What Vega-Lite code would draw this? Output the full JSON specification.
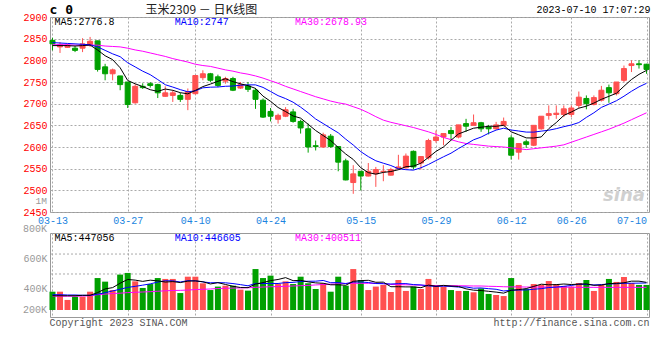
{
"$schema":"https://vega.github.io/schema/vega-lite/v6.json",
"padding":{"left":22,"top":3,"right":5,"bottom":5},
"bounds":"flush",
"spacing":21,
"config":{"view":{"stroke":"#999","strokeWidth":1},"font":"Liberation Mono",
"axis":{"labelFont":"Liberation Mono","labelFontSize":10,"ticks":false,"domain":false,"gridColor":"#aaa","gridDash":[2,2],"gridOpacity":1,"title":null,"labelPadding":3,"labelOverlap":false}},
"datasets":{"k":[
{"d":"03-13","o":2846,"h":2852,"l":2823,"c":2838,"v":382,"m5":2834,"m10":2841,"m30":2836,"vm5":355,"vm10":362,"vm30":352},
{"d":"03-14","o":2831,"h":2842,"l":2817,"c":2836,"v":382,"m5":2834,"m10":2840,"m30":2836,"vm5":355,"vm10":362,"vm30":352},
{"d":"03-15","o":2830,"h":2838,"l":2829,"c":2835,"v":327,"m5":2834,"m10":2839,"m30":2836,"vm5":355,"vm10":360,"vm30":352},
{"d":"03-16","o":2828,"h":2833,"l":2819,"c":2823,"v":349,"m5":2833,"m10":2838,"m30":2835,"vm5":355,"vm10":360,"vm30":352},
{"d":"03-17","o":2828,"h":2851,"l":2819,"c":2838,"v":349,"m5":2834,"m10":2837,"m30":2835,"vm5":357.8,"vm10":358,"vm30":353},
{"d":"03-20","o":2836,"h":2854,"l":2831,"c":2844,"v":382,"m5":2835.2,"m10":2836,"m30":2835,"vm5":357.8,"vm10":358,"vm30":355},
{"d":"03-21","o":2845,"h":2845,"l":2774,"c":2779,"v":473,"m5":2823.8,"m10":2831,"m30":2835,"vm5":376,"vm10":365,"vm30":362},
{"d":"03-22","o":2785,"h":2792,"l":2754,"c":2769,"v":449,"m5":2810.6,"m10":2823,"m30":2833,"vm5":400.4,"vm10":375,"vm30":366},
{"d":"03-23","o":2769,"h":2781,"l":2754,"c":2778,"v":393,"m5":2801.6,"m10":2815,"m30":2832,"vm5":409.2,"vm10":387,"vm30":370},
{"d":"03-24","o":2764,"h":2764,"l":2731,"c":2744,"v":496,"m5":2782.8,"m10":2808.4,"m30":2831,"vm5":438.6,"vm10":398.2,"vm30":372},
{"d":"03-27","o":2750,"h":2750,"l":2690,"c":2698,"v":507,"m5":2753.6,"m10":2794.4,"m30":2828,"vm5":463.6,"vm10":410.7,"vm30":376},
{"d":"03-28","o":2702,"h":2745,"l":2700,"c":2740,"v":451,"m5":2745.8,"m10":2784.8,"m30":2824,"vm5":459.2,"vm10":417.6,"vm30":378},
{"d":"03-29","o":2740,"h":2747,"l":2734,"c":2737,"v":407,"m5":2739.4,"m10":2775,"m30":2821,"vm5":450.8,"vm10":425.6,"vm30":380},
{"d":"03-30","o":2746,"h":2750,"l":2737,"c":2742,"v":433,"m5":2732.2,"m10":2766.9,"m30":2817,"vm5":458.8,"vm10":434,"vm30":382},
{"d":"03-31","o":2744,"h":2746,"l":2713,"c":2725,"v":473,"m5":2728.4,"m10":2755.6,"m30":2813,"vm5":454.2,"vm10":446.4,"vm30":385},
{"d":"04-03","o":2717,"h":2740,"l":2716,"c":2725,"v":467,"m5":2733.8,"m10":2743.7,"m30":2809,"vm5":446.2,"vm10":454.9,"vm30":388},
{"d":"04-04","o":2719,"h":2731,"l":2704,"c":2725,"v":467,"m5":2730.8,"m10":2738.3,"m30":2804,"vm5":449.4,"vm10":454.3,"vm30":390},
{"d":"04-06","o":2719,"h":2725,"l":2704,"c":2710,"v":373,"m5":2725.4,"m10":2732.4,"m30":2800,"vm5":442.6,"vm10":446.7,"vm30":391},
{"d":"04-07","o":2710,"h":2735,"l":2685,"c":2728,"v":482,"m5":2722.6,"m10":2727.4,"m30":2796,"vm5":452.4,"vm10":455.6,"vm30":393},
{"d":"04-10","o":2723,"h":2766,"l":2721,"c":2765,"v":482,"m5":2730.6,"m10":2729.5,"m30":2791,"vm5":454.2,"vm10":454.2,"vm30":396},
{"d":"04-11","o":2760,"h":2777,"l":2754,"c":2769,"v":438,"m5":2739.4,"m10":2736.6,"m30":2788,"vm5":448.4,"vm10":447.3,"vm30":398},
{"d":"04-12","o":2769,"h":2771,"l":2750,"c":2754,"v":393,"m5":2745.2,"m10":2738,"m30":2786,"vm5":433.6,"vm10":441.5,"vm30":400},
{"d":"04-13","o":2762,"h":2767,"l":2738,"c":2742,"v":416,"m5":2751.6,"m10":2738.5,"m30":2782,"vm5":442.2,"vm10":442.4,"vm30":403},
{"d":"04-14","o":2752,"h":2762,"l":2746,"c":2758,"v":422,"m5":2757.6,"m10":2740.1,"m30":2778,"vm5":430.2,"vm10":441.3,"vm30":405},
{"d":"04-17","o":2758,"h":2762,"l":2729,"c":2731,"v":422,"m5":2750.8,"m10":2740.7,"m30":2775,"vm5":418.2,"vm10":436.2,"vm30":406},
{"d":"04-18","o":2736,"h":2750,"l":2734,"c":2744,"v":396,"m5":2745.8,"m10":2742.6,"m30":2771,"vm5":409.8,"vm10":429.1,"vm30":407},
{"d":"04-19","o":2741,"h":2750,"l":2727,"c":2733,"v":389,"m5":2741.6,"m10":2743.4,"m30":2768,"vm5":409,"vm10":421.3,"vm30":408},
{"d":"04-20","o":2731,"h":2736,"l":2688,"c":2710,"v":533,"m5":2735.2,"m10":2743.4,"m30":2764,"vm5":432.4,"vm10":437.3,"vm30":411},
{"d":"04-21","o":2708,"h":2712,"l":2667,"c":2669,"v":473,"m5":2717.4,"m10":2737.5,"m30":2759,"vm5":442.6,"vm10":436.4,"vm30":413},
{"d":"04-24","o":2682,"h":2690,"l":2659,"c":2671,"v":489,"m5":2705.4,"m10":2728.1,"m30":2753,"vm5":456,"vm10":437.1,"vm30":415},
{"d":"04-25","o":2664,"h":2677,"l":2654,"c":2673,"v":433,"m5":2691.2,"m10":2718.5,"m30":2747,"vm5":463.4,"vm10":436.6,"vm30":416},
{"d":"04-26","o":2671,"h":2692,"l":2669,"c":2686,"v":451,"m5":2681.8,"m10":2711.7,"m30":2740,"vm5":475.8,"vm10":442.4,"vm30":418},
{"d":"04-27","o":2681,"h":2688,"l":2656,"c":2659,"v":433,"m5":2671.6,"m10":2703.4,"m30":2734,"vm5":455.8,"vm10":444.1,"vm30":420},
{"d":"04-28","o":2659,"h":2663,"l":2631,"c":2644,"v":482,"m5":2666.6,"m10":2692,"m30":2728,"vm5":457.6,"vm10":450.1,"vm30":422},
{"d":"05-04","o":2642,"h":2654,"l":2587,"c":2600,"v":438,"m5":2652.4,"m10":2678.9,"m30":2722,"vm5":447.4,"vm10":451.7,"vm30":424},
{"d":"05-05","o":2603,"h":2615,"l":2592,"c":2601,"v":400,"m5":2638,"m10":2664.6,"m30":2716,"vm5":440.8,"vm10":452.1,"vm30":427},
{"d":"05-08","o":2600,"h":2633,"l":2598,"c":2628,"v":438,"m5":2626.4,"m10":2654.1,"m30":2711,"vm5":438.2,"vm10":457,"vm30":430},
{"d":"05-09","o":2625,"h":2630,"l":2598,"c":2601,"v":382,"m5":2614.8,"m10":2643.2,"m30":2706,"vm5":428,"vm10":441.9,"vm30":432},
{"d":"05-10","o":2601,"h":2601,"l":2544,"c":2565,"v":482,"m5":2599,"m10":2632.8,"m30":2702,"vm5":428,"vm10":442.8,"vm30":435},
{"d":"05-11","o":2568,"h":2573,"l":2523,"c":2524,"v":422,"m5":2583.8,"m10":2618.1,"m30":2699,"vm5":424.8,"vm10":436.1,"vm30":437},
{"d":"05-12","o":2518,"h":2558,"l":2492,"c":2538,"v":533,"m5":2571.2,"m10":2604.6,"m30":2693,"vm5":451.4,"vm10":446.1,"vm30":438},
{"d":"05-15","o":2544,"h":2544,"l":2500,"c":2533,"v":460,"m5":2552.2,"m10":2589.3,"m30":2687,"vm5":455.8,"vm10":447,"vm30":438},
{"d":"05-16","o":2533,"h":2563,"l":2532,"c":2544,"v":393,"m5":2540.8,"m10":2577.8,"m30":2679,"vm5":458,"vm10":443,"vm30":438},
{"d":"05-17","o":2538,"h":2554,"l":2508,"c":2548,"v":416,"m5":2537.4,"m10":2568.2,"m30":2670,"vm5":444.8,"vm10":436.4,"vm30":438},
{"d":"05-18","o":2543,"h":2558,"l":2521,"c":2544,"v":427,"m5":2541.4,"m10":2562.6,"m30":2662,"vm5":445.8,"vm10":435.3,"vm30":436},
{"d":"05-19","o":2535,"h":2552,"l":2534,"c":2548,"v":380,"m5":2543.4,"m10":2557.3,"m30":2657,"vm5":415.2,"vm10":433.3,"vm30":430},
{"d":"05-22","o":2550,"h":2582,"l":2548,"c":2554,"v":460,"m5":2547.6,"m10":2549.9,"m30":2653,"vm5":415.2,"vm10":435.5,"vm30":429},
{"d":"05-23","o":2552,"h":2585,"l":2550,"c":2579,"v":387,"m5":2554.6,"m10":2547.7,"m30":2649,"vm5":414,"vm10":436,"vm30":428},
{"d":"05-24","o":2590,"h":2592,"l":2548,"c":2554,"v":416,"m5":2555.8,"m10":2546.6,"m30":2645,"vm5":414,"vm10":429.4,"vm30":427},
{"d":"05-25","o":2563,"h":2578,"l":2548,"c":2578,"v":400,"m5":2562.6,"m10":2552,"m30":2640,"vm5":408.6,"vm10":427.2,"vm30":425},
{"d":"05-26","o":2575,"h":2619,"l":2571,"c":2615,"v":467,"m5":2576,"m10":2559.7,"m30":2635,"vm5":426,"vm10":420.6,"vm30":424},
{"d":"05-29","o":2615,"h":2638,"l":2610,"c":2623,"v":422,"m5":2589.8,"m10":2568.7,"m30":2629,"vm5":418.4,"vm10":416.8,"vm30":423},
{"d":"05-30","o":2623,"h":2631,"l":2604,"c":2631,"v":416,"m5":2600.2,"m10":2577.4,"m30":2622,"vm5":424.2,"vm10":419.1,"vm30":422},
{"d":"05-31","o":2638,"h":2646,"l":2616,"c":2631,"v":393,"m5":2615.6,"m10":2585.7,"m30":2617,"vm5":419.6,"vm10":416.8,"vm30":422},
{"d":"06-01","o":2623,"h":2651,"l":2620,"c":2651,"v":387,"m5":2630.2,"m10":2596.4,"m30":2612,"vm5":417,"vm10":412.8,"vm30":422},
{"d":"06-02","o":2654,"h":2665,"l":2635,"c":2648,"v":387,"m5":2636.8,"m10":2606.4,"m30":2608,"vm5":401,"vm10":413.5,"vm30":421},
{"d":"06-05","o":2650,"h":2675,"l":2650,"c":2656,"v":378,"m5":2643.4,"m10":2616.6,"m30":2606,"vm5":392.2,"vm10":405.3,"vm30":420},
{"d":"06-06","o":2656,"h":2658,"l":2635,"c":2642,"v":404,"m5":2645.6,"m10":2622.9,"m30":2604,"vm5":389.8,"vm10":407,"vm30":420},
{"d":"06-07","o":2646,"h":2651,"l":2629,"c":2642,"v":367,"m5":2647.8,"m10":2631.7,"m30":2602,"vm5":384.6,"vm10":402.1,"vm30":418},
{"d":"06-08","o":2642,"h":2658,"l":2640,"c":2651,"v":360,"m5":2647.8,"m10":2639,"m30":2601,"vm5":379.2,"vm10":398.1,"vm30":417},
{"d":"06-09","o":2650,"h":2668,"l":2648,"c":2659,"v":353,"m5":2650,"m10":2643.4,"m30":2600,"vm5":372.4,"vm10":386.7,"vm30":415},
{"d":"06-12","o":2621,"h":2627,"l":2571,"c":2581,"v":473,"m5":2635,"m10":2639.2,"m30":2598,"vm5":391.4,"vm10":391.8,"vm30":414},
{"d":"06-13","o":2588,"h":2609,"l":2571,"c":2608,"v":427,"m5":2628.2,"m10":2636.9,"m30":2596,"vm5":396,"vm10":392.9,"vm30":414},
{"d":"06-14","o":2612,"h":2617,"l":2598,"c":2606,"v":400,"m5":2621,"m10":2634.4,"m30":2594,"vm5":402.6,"vm10":393.6,"vm30":413},
{"d":"06-15","o":2604,"h":2650,"l":2602,"c":2650,"v":433,"m5":2620.8,"m10":2634.3,"m30":2596,"vm5":417.2,"vm10":398.2,"vm30":413},
{"d":"06-16","o":2642,"h":2671,"l":2640,"c":2671,"v":427,"m5":2623.2,"m10":2636.6,"m30":2598,"vm5":432,"vm10":402.2,"vm30":413},
{"d":"06-19","o":2673,"h":2696,"l":2663,"c":2677,"v":453,"m5":2642.4,"m10":2638.7,"m30":2600,"vm5":428,"vm10":409.7,"vm30":412},
{"d":"06-20","o":2675,"h":2696,"l":2665,"c":2678,"v":433,"m5":2656.4,"m10":2642.3,"m30":2602,"vm5":429.2,"vm10":412.6,"vm30":412},
{"d":"06-21","o":2675,"h":2696,"l":2669,"c":2688,"v":420,"m5":2672.8,"m10":2646.9,"m30":2605,"vm5":433.2,"vm10":417.9,"vm30":412},
{"d":"06-26","o":2675,"h":2696,"l":2669,"c":2690,"v":416,"m5":2680.8,"m10":2650.8,"m30":2611,"vm5":429.8,"vm10":423.5,"vm30":412},
{"d":"06-27","o":2696,"h":2728,"l":2690,"c":2715,"v":440,"m5":2689.6,"m10":2656.4,"m30":2617,"vm5":432.4,"vm10":432.2,"vm30":411},
{"d":"06-28","o":2712,"h":2719,"l":2687,"c":2700,"v":460,"m5":2694.2,"m10":2668.3,"m30":2623,"vm5":433.8,"vm10":430.9,"vm30":411},
{"d":"06-29","o":2698,"h":2719,"l":2696,"c":2714,"v":387,"m5":2701.4,"m10":2678.9,"m30":2629,"vm5":424.6,"vm10":426.9,"vm30":411},
{"d":"06-30","o":2708,"h":2741,"l":2705,"c":2731,"v":427,"m5":2710,"m10":2691.4,"m30":2635,"vm5":426,"vm10":429.6,"vm30":411},
{"d":"07-03","o":2737,"h":2744,"l":2702,"c":2725,"v":467,"m5":2717,"m10":2698.9,"m30":2641,"vm5":436.2,"vm10":433,"vm30":411},
{"d":"07-04","o":2723,"h":2750,"l":2719,"c":2750,"v":447,"m5":2724,"m10":2706.8,"m30":2648,"vm5":437.6,"vm10":435,"vm30":411},
{"d":"07-05","o":2754,"h":2788,"l":2750,"c":2781,"v":480,"m5":2740.2,"m10":2717.2,"m30":2655,"vm5":441.6,"vm10":437.7,"vm30":411},
{"d":"07-06","o":2788,"h":2800,"l":2773,"c":2792,"v":440,"m5":2755.8,"m10":2728.6,"m30":2663,"vm5":452.2,"vm10":438.4,"vm30":411},
{"d":"07-07","o":2792,"h":2800,"l":2781,"c":2790,"v":427,"m5":2767.6,"m10":2738.8,"m30":2671,"vm5":452.2,"vm10":439.1,"vm30":411},
{"d":"07-10","o":2791,"h":2792,"l":2769,"c":2779,"v":427,"m5":2776.8,"m10":2747,"m30":2678.9,"vm5":444.2,"vm10":440.2,"vm30":411}
],
"one":[{}]},
"vconcat":[
{"width":599,"height":195,
"layer":[
{"data":{"name":"k"},"mark":{"type":"rule","strokeWidth":1},
 "encoding":{
  "x":{"field":"d","type":"ordinal","scale":{"type":"point","padding":0.33},
   "axis":{"values":["03-13","03-27","04-10","04-24","05-15","05-29","06-12","06-26","07-10"],"labelAngle":0,"labelColor":"#1a84e0","grid":true,"labelOverlap":false,
    "labelAlign":{"condition":{"test":"datum.value == '07-10'","value":"right"},"value":"center"}}},
  "y":{"field":"l","type":"quantitative","scale":{"domain":[2450,2900],"zero":false,"nice":false},
   "axis":{"values":[2450,2500,2550,2600,2650,2700,2750,2800,2850,2900],"tickCount":20,"format":"d","labelColor":"#ff0000","grid":true,"labelOverlap":false,"labelBound":false,"labelFlush":false}},
  "y2":{"field":"h"},
  "color":{"condition":{"test":"datum.c >= datum.o","value":"#ff5050"},"value":"#00a000"}}},
{"data":{"name":"k"},"mark":{"type":"bar","width":5,"strokeWidth":1},
 "encoding":{
  "x":{"field":"d","type":"ordinal"},
  "y":{"field":"o","type":"quantitative"},
  "y2":{"field":"c"},
  "fill":{"condition":{"test":"datum.c >= datum.o","value":"#ff5050"},"value":"#00a000"},
  "stroke":{"condition":{"test":"datum.c >= datum.o","value":"#ff5050"},"value":"#00a000"}}},
{"data":{"name":"k"},"mark":{"type":"line","color":"#ff00ff","strokeWidth":1},"encoding":{"x":{"field":"d","type":"ordinal"},"y":{"field":"m30","type":"quantitative"}}},
{"data":{"name":"k"},"mark":{"type":"line","color":"#0000ff","strokeWidth":1},"encoding":{"x":{"field":"d","type":"ordinal"},"y":{"field":"m10","type":"quantitative"}}},
{"data":{"name":"k"},"mark":{"type":"line","color":"#000000","strokeWidth":1},"encoding":{"x":{"field":"d","type":"ordinal"},"y":{"field":"m5","type":"quantitative"}}},
{"data":{"name":"one"},"mark":{"type":"text","text":"MA5:2776.8","align":"left","baseline":"middle","fontSize":10,"font":"Liberation Mono","color":"#000","dx":2},
 "encoding":{"x":{"datum":"03-13"},"y":{"datum":2888.5}}},
{"data":{"name":"one"},"mark":{"type":"text","text":"MA10:2747","align":"left","baseline":"middle","fontSize":10,"font":"Liberation Mono","color":"#0000ff","dx":2},
 "encoding":{"x":{"datum":"04-04"},"y":{"datum":2888.5}}},
{"data":{"name":"one"},"mark":{"type":"text","text":"MA30:2678.93","align":"left","baseline":"middle","fontSize":10,"font":"Liberation Mono","color":"#ff00ff","dx":2},
 "encoding":{"x":{"datum":"04-27"},"y":{"datum":2888.5}}},
{"data":{"name":"one"},"mark":{"type":"text","text":"c 0","align":"left","baseline":"middle","fontSize":13,"fontWeight":"bold","font":"DejaVu Sans Mono","color":"#000","dx":-3},
 "encoding":{"x":{"datum":"03-13"},"y":{"datum":2916}}},
{"data":{"name":"one"},"mark":{"type":"text","text":"玉米2309 － 日K线图","align":"center","baseline":"middle","fontSize":12,"font":"Noto Sans CJK SC","color":"#222","dx":6},
 "encoding":{"x":{"datum":"04-10"},"y":{"datum":2917}}},
{"data":{"name":"one"},"mark":{"type":"text","text":"2023-07-10 17:07:29","align":"right","baseline":"middle","fontSize":10,"font":"Liberation Mono","color":"#000","dx":4},
 "encoding":{"x":{"datum":"07-10"},"y":{"datum":2916}}},
{"data":{"name":"one"},"mark":{"type":"text","text":"sina","align":"center","baseline":"middle","fontSize":18,"fontWeight":"bold","fontStyle":"italic","font":"DejaVu Sans","color":"#d0d0d0"},
 "encoding":{"x":{"datum":"07-05"},"y":{"datum":2487}}}
]},
{"width":599,"height":84,
"layer":[
{"data":{"name":"one"},"mark":{"type":"rule","color":"#aaa","strokeDash":[2,2],"strokeWidth":1},"encoding":{"y":{"datum":500,"type":"quantitative"}}},
{"data":{"name":"one"},"mark":{"type":"rule","color":"#aaa","strokeDash":[2,2],"strokeWidth":1},"encoding":{"y":{"datum":633,"type":"quantitative"}}},
{"data":{"name":"k"},"mark":{"type":"bar","width":6},
 "encoding":{
  "x":{"field":"d","type":"ordinal","scale":{"type":"point","padding":0.33},
   "axis":{"values":["03-13","03-27","04-10","04-24","05-15","05-29","06-12","06-26","07-10"],"labels":false,"grid":true}},
  "y":{"field":"v","type":"quantitative","scale":{"domain":[213.3,773.3],"zero":false,"nice":false},
   "axis":{"values":[400,600],"tickCount":10,"labelColor":"#999","grid":false,"labelExpr":"datum.value + 'K'"}},
  "y2":{"datum":260},
  "color":{"condition":{"test":"datum.c >= datum.o","value":"#ff5050"},"value":"#00a000"}}},
{"data":{"name":"k"},"mark":{"type":"line","color":"#ff00ff","strokeWidth":1},"encoding":{"x":{"field":"d","type":"ordinal"},"y":{"field":"vm30","type":"quantitative"}}},
{"data":{"name":"k"},"mark":{"type":"line","color":"#0000ff","strokeWidth":1},"encoding":{"x":{"field":"d","type":"ordinal"},"y":{"field":"vm10","type":"quantitative"}}},
{"data":{"name":"k"},"mark":{"type":"line","color":"#000000","strokeWidth":1},"encoding":{"x":{"field":"d","type":"ordinal"},"y":{"field":"vm5","type":"quantitative"}}},
{"data":{"name":"one"},"mark":{"type":"text","text":"1M","align":"right","baseline":"middle","fontSize":9.5,"font":"Liberation Mono","color":"#999","dx":-5.5,"dy":2},
 "encoding":{"x":{"datum":"03-13"},"y":{"datum":1000}}},
{"data":{"name":"one"},"mark":{"type":"text","text":"800K","align":"right","baseline":"middle","fontSize":10,"font":"Liberation Mono","color":"#999","dx":-5.5},
 "encoding":{"x":{"datum":"03-13"},"y":{"datum":800}}},
{"data":{"name":"one"},"mark":{"type":"text","text":"200K","align":"right","baseline":"middle","fontSize":10,"font":"Liberation Mono","color":"#999","dx":-5.5,"dy":-9},
 "encoding":{"x":{"datum":"03-13"},"y":{"datum":200}}},
{"data":{"name":"one"},"mark":{"type":"text","text":"MA5:447056","align":"left","baseline":"middle","fontSize":10,"font":"Liberation Mono","color":"#000","dx":2},
 "encoding":{"x":{"datum":"03-13"},"y":{"datum":740}}},
{"data":{"name":"one"},"mark":{"type":"text","text":"MA10:446605","align":"left","baseline":"middle","fontSize":10,"font":"Liberation Mono","color":"#0000ff","dx":2},
 "encoding":{"x":{"datum":"04-04"},"y":{"datum":740}}},
{"data":{"name":"one"},"mark":{"type":"text","text":"MA30:400511","align":"left","baseline":"middle","fontSize":10,"font":"Liberation Mono","color":"#ff00ff","dx":2},
 "encoding":{"x":{"datum":"04-27"},"y":{"datum":740}}},
{"data":{"name":"one"},"mark":{"type":"text","text":"Copyright 2023 SINA.COM","align":"left","baseline":"middle","fontSize":10,"font":"Liberation Mono","color":"#555","dx":-3},
 "encoding":{"x":{"datum":"03-13"},"y":{"datum":173}}},
{"data":{"name":"one"},"mark":{"type":"text","text":"http://finance.sina.com.cn","align":"right","baseline":"middle","fontSize":10,"font":"Liberation Mono","color":"#555","dx":3},
 "encoding":{"x":{"datum":"07-10"},"y":{"datum":173}}}
]}
]
}
